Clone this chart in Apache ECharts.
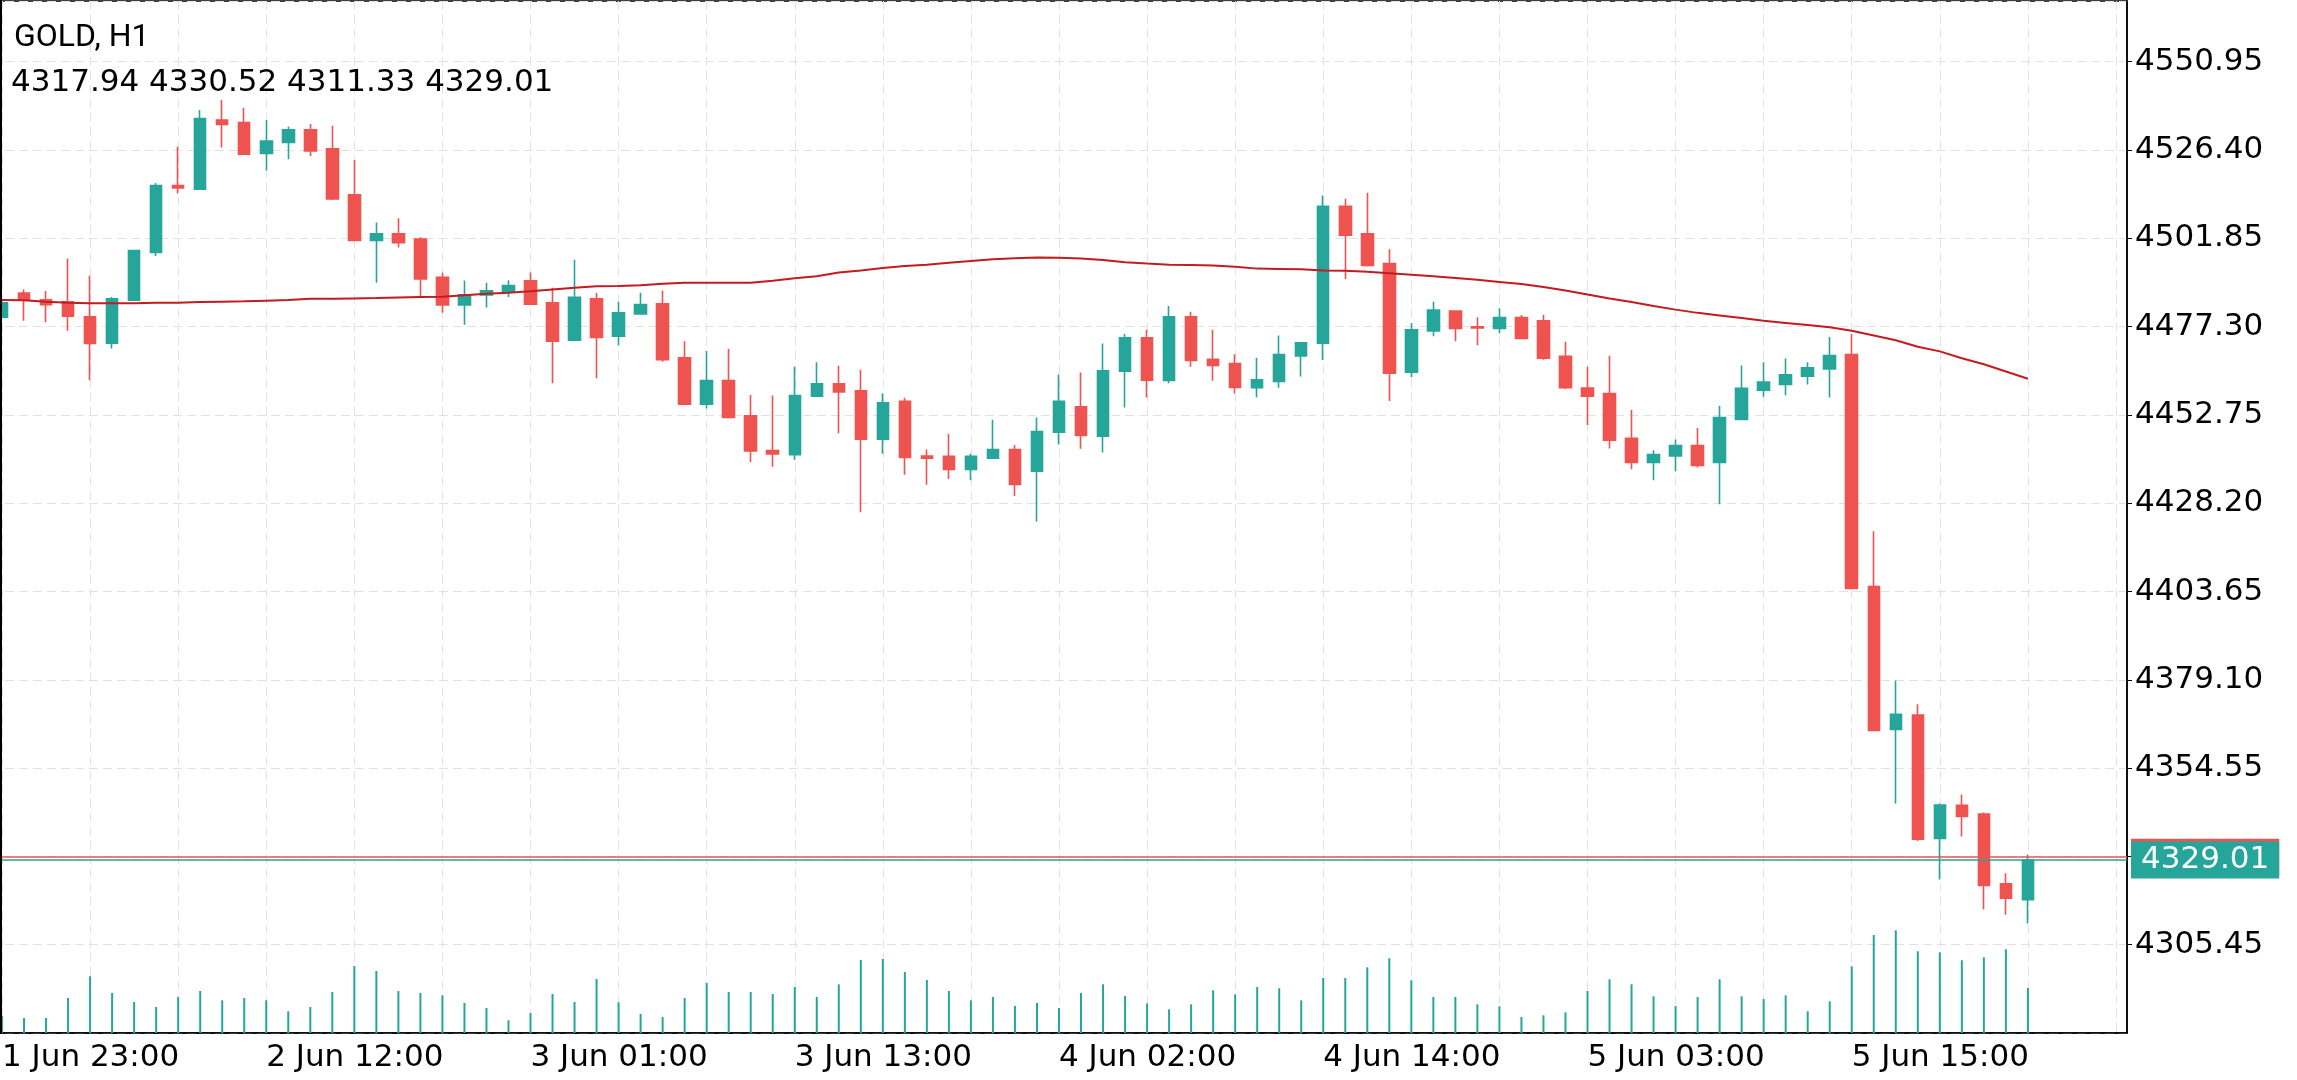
<!DOCTYPE html>
<html>
<head>
<meta charset="utf-8">
<title>GOLD, H1</title>
<script src="https://cdn.jsdelivr.net/npm/echarts@6.0.0/dist/echarts.min.js"></script>
<style>
  html, body { margin: 0; padding: 0; background: #fff; }
  #main { width: 2297px; height: 1080px; }
</style>
</head>
<body>
<div id="main"></div>
<script>
// hourly bars (index 0 = 1 Jun 23:00)
const opens = [4479.9, 4486.6, 4484.7, 4484.2, 4480.0, 4472.7, 4484.6, 4497.9, 4516.5, 4515.5,
  4534.7, 4534.0, 4525.4, 4528.5, 4532.0, 4526.7, 4513.9, 4501.2, 4503.1, 4501.6,
  4491.0, 4483.3, 4486.1, 4487.0, 4490.0, 4483.9, 4473.5, 4485.0, 4474.6, 4480.8,
  4483.6, 4468.6, 4455.7, 4462.3, 4452.5, 4442.8, 4441.7, 4457.9, 4461.4, 4459.4,
  4446.0, 4456.5, 4441.3, 4441.2, 4437.6, 4440.7, 4443.1, 4437.1, 4447.9, 4455.0,
  4446.8, 4464.9, 4474.2, 4462.3, 4480.0, 4468.2, 4467.0, 4460.3, 4462.0, 4469.1,
  4472.7, 4510.7, 4503.1, 4494.8, 4464.6, 4476.1, 4481.6, 4477.2, 4476.8, 4479.8,
  4478.9, 4469.0, 4460.2, 4458.7, 4446.2, 4439.5, 4441.3, 4444.2, 4439.5, 4451.5,
  4459.6, 4461.2, 4463.5, 4465.5, 4469.5, 4405.0, 4365.3, 4369.3, 4335.0, 4344.2,
  4341.8, 4322.4, 4317.94];
const closes = [4483.9, 4484.6, 4483.4, 4480.2, 4472.6, 4485.0, 4498.4, 4516.5, 4515.8, 4535.1,
  4533.5, 4525.2, 4528.9, 4532.0, 4526.1, 4512.8, 4501.2, 4503.1, 4500.6, 4490.5,
  4483.3, 4486.1, 4487.2, 4488.7, 4483.5, 4473.2, 4485.4, 4474.3, 4481.1, 4483.4,
  4468.1, 4455.7, 4462.3, 4452.0, 4442.7, 4441.9, 4458.1, 4461.4, 4459.1, 4446.0,
  4456.1, 4440.9, 4440.7, 4437.6, 4441.2, 4443.1, 4433.4, 4448.1, 4456.5, 4447.0,
  4465.0, 4474.2, 4462.4, 4480.0, 4467.9, 4466.5, 4460.4, 4462.5, 4469.5, 4472.8,
  4510.7, 4502.7, 4494.3, 4464.3, 4476.4, 4481.9, 4476.8, 4476.9, 4479.8, 4474.0,
  4468.5, 4460.3, 4457.9, 4445.7, 4439.5, 4441.7, 4444.2, 4438.7, 4452.0, 4460.1,
  4461.9, 4463.9, 4465.8, 4469.2, 4404.5, 4365.0, 4369.5, 4334.8, 4344.3, 4341.1,
  4321.9, 4318.4, 4329.01];
const highs = [4484.9, 4487.6, 4487.2, 4496.2, 4491.4, 4485.5, 4498.6, 4517.2, 4527.3, 4537.5,
  4540.3, 4538.1, 4534.7, 4532.9, 4533.6, 4533.1, 4523.6, 4506.2, 4507.4, 4502.1,
  4492.3, 4490.1, 4489.5, 4490.2, 4492.3, 4488.1, 4495.9, 4486.6, 4484.2, 4486.7,
  4487.3, 4473.2, 4470.5, 4471.1, 4458.3, 4458.1, 4466.1, 4467.4, 4466.4, 4465.3,
  4458.7, 4457.5, 4443.1, 4447.5, 4441.9, 4451.4, 4444.4, 4452.0, 4464.0, 4464.5,
  4472.6, 4475.2, 4476.4, 4483.0, 4481.4, 4476.4, 4469.6, 4468.6, 4474.8, 4473.0,
  4513.7, 4512.8, 4514.5, 4498.8, 4478.3, 4484.2, 4481.8, 4479.9, 4482.4, 4480.5,
  4480.6, 4473.1, 4466.1, 4469.2, 4454.1, 4442.9, 4445.9, 4449.1, 4455.3, 4466.5,
  4467.4, 4468.4, 4467.4, 4474.4, 4475.2, 4420.4, 4378.9, 4372.3, 4344.7, 4347.2,
  4342.2, 4325.3, 4330.52];
const lows = [4479.3, 4478.9, 4478.5, 4476.1, 4462.4, 4471.2, 4484.4, 4496.9, 4514.3, 4515.3,
  4527.1, 4525.0, 4520.7, 4523.8, 4524.7, 4512.5, 4501.0, 4489.5, 4499.3, 4485.7,
  4481.1, 4477.8, 4482.6, 4485.5, 4483.3, 4461.5, 4473.3, 4462.9, 4472.0, 4480.6,
  4467.5, 4455.5, 4454.5, 4451.8, 4439.6, 4438.3, 4440.2, 4457.7, 4447.6, 4425.7,
  4441.9, 4436.1, 4433.3, 4434.9, 4434.6, 4440.5, 4430.2, 4423.1, 4444.5, 4443.3,
  4442.3, 4454.8, 4457.6, 4461.5, 4466.1, 4462.2, 4458.7, 4457.6, 4460.3, 4463.4,
  4468.0, 4490.5, 4494.0, 4456.6, 4463.2, 4474.6, 4473.2, 4472.1, 4475.4, 4473.8,
  4468.1, 4459.9, 4449.9, 4443.4, 4437.6, 4434.6, 4437.1, 4438.1, 4427.9, 4451.4,
  4457.8, 4458.2, 4461.2, 4457.6, 4404.3, 4364.8, 4344.7, 4334.3, 4323.6, 4335.5,
  4315.2, 4313.8, 4311.33];
// moving average line
const maLine = [4484.7, 4484.6, 4484.2, 4483.9, 4483.8, 4483.8, 4483.8, 4483.9, 4483.9, 4484.1,
  4484.2, 4484.3, 4484.5, 4484.7, 4485.0, 4485.0, 4485.1, 4485.2, 4485.4, 4485.5,
  4485.6, 4486.0, 4486.4, 4486.7, 4487.1, 4487.6, 4488.1, 4488.5, 4488.6, 4488.8,
  4489.2, 4489.5, 4489.5, 4489.5, 4489.5, 4490.0, 4490.7, 4491.3, 4492.3, 4492.9,
  4493.6, 4494.1, 4494.5, 4495.0, 4495.5, 4496.0, 4496.3, 4496.5, 4496.4, 4496.2,
  4495.8, 4495.2, 4494.8, 4494.5, 4494.4, 4494.3, 4493.9, 4493.4, 4493.3, 4493.2,
  4492.9, 4492.8, 4492.5, 4492.1, 4491.7, 4491.3, 4490.8, 4490.3, 4489.7, 4489.1,
  4488.3, 4487.3, 4486.2, 4485.1, 4484.1, 4483.0, 4482.0, 4481.1, 4480.4, 4479.7,
  4478.9, 4478.3, 4477.7, 4477.1, 4476.1, 4474.8, 4473.5, 4471.7, 4470.4, 4468.5,
  4466.8, 4464.8, 4462.8];
// tick volumes (relative)
const volumes = [167, 150, 150, 350, 567, 400, 310, 260, 360, 420,
  327, 350, 327, 217, 260, 410, 670, 620, 420, 400,
  377, 300, 250, 127, 200, 390, 310, 540, 307, 190,
  160, 350, 500, 410, 410, 390, 460, 360, 487, 730,
  740, 610, 530, 420, 327, 360, 270, 300, 250, 400,
  487, 370, 297, 237, 287, 427, 387, 460, 447, 327,
  550, 550, 657, 747, 527, 360, 360, 287, 267, 160,
  177, 207, 420, 537, 487, 367, 270, 360, 537, 367,
  340, 377, 217, 317, 667, 980, 1027, 817, 807, 727,
  757, 837, 450];
const askPrice = 4329.76;
const yTickMin = 4280.90;
const yTickStep = 24.55;

// hourly time labels, the 00:00 bar is missing every day (daily break)
const categories = [];
let day = 1, hour = 23;
for (let i = 0; i < closes.length; i++) {
  categories.push(day + ' Jun ' + String(hour).padStart(2, '0') + ':00');
  hour++;
  if (hour === 24) { day++; hour = 1; }
}
// empty slots on the right of the last bar
for (let i = 0; i < 4; i++) categories.push('');

const last = closes.length - 1;
const bid = closes[last];
const header = [opens[last], highs[last], lows[last], closes[last]].map(v => v.toFixed(2)).join(' ');
const candles = opens.map((o, i) => [o, closes[i], lows[i], highs[i]]);

const UP = '#26a69a';
const DOWN = '#ef5350';
const numFont = 'DejaVu Sans';

const myChart = echarts.init(document.getElementById('main'), null, { renderer: 'canvas' });

const option = {
  animation: false,
  backgroundColor: '#fff',
  textStyle: { fontFamily: numFont },
  grid: {
    left: -9, right: 170, top: 1, bottom: 47,
    containLabel: false,
    outerBoundsMode: 'none',
    show: true,
    borderColor: '#000',
    borderWidth: 1.5
  },
  xAxis: {
    type: 'category',
    data: categories,
    boundaryGap: true,
    axisLine: { lineStyle: { color: '#000', width: 1.5 } },
    axisTick: { alignWithLabel: true, interval: 11, length: 4, lineStyle: { color: '#000' } },
    axisLabel: {
      interval: 11, align: 'left', margin: 9,
      color: '#000', fontFamily: numFont, fontSize: 31
    },
    splitLine: {
      show: true, interval: 3, alignWithLabel: true,
      lineStyle: { color: '#e2e2e2', width: 1, type: [9, 5] }
    }
  },
  yAxis: [
    {
      type: 'value',
      position: 'right',
      min: yTickMin,
      max: 4567.8,
      interval: yTickStep,
      axisLine: { show: true, lineStyle: { color: '#000', width: 1.5 } },
      axisTick: { show: true, length: 5, lineStyle: { color: '#000' } },
      axisLabel: {
        showMinLabel: false, showMaxLabel: false, margin: 8,
        color: '#000', fontFamily: numFont, fontSize: 31,
        formatter: v => v.toFixed(2)
      },
      splitLine: { lineStyle: { color: '#e2e2e2', width: 1, type: [9, 5] } }
    },
    {
      type: 'value',
      show: false,
      min: 0,
      max: 10320
    }
  ],
  graphic: [
    {
      type: 'line', z: 100,
      shape: { x1: 1, y1: 0, x2: 1, y2: 1033 },
      style: { stroke: '#000', lineWidth: 2 }
    },
    {
      type: 'text', left: 14, top: 22, z: 100,
      style: { text: 'GOLD, H1', font: '32px Roboto', fill: '#000' }
    },
    {
      type: 'text', left: 11, top: 67, z: 100,
      style: { text: header, font: '31px "DejaVu Sans"', fill: '#000' }
    }
  ],
  series: [
    {
      name: 'Volume',
      type: 'bar',
      xAxisIndex: 0,
      yAxisIndex: 1,
      barWidth: 2,
      data: volumes,
      itemStyle: { color: UP },
      silent: true,
      z: 1
    },
    {
      name: 'GOLD',
      type: 'candlestick',
      yAxisIndex: 0,
      barWidth: 12,
      data: candles,
      itemStyle: {
        color: UP, color0: DOWN,
        borderColor: UP, borderColor0: DOWN,
        borderWidth: 1.6
      },
      markLine: {
        silent: true,
        symbol: ['none', 'none'],
        data: [
          {
            yAxis: askPrice,
            lineStyle: { color: DOWN, width: 1.5, type: 'solid' },
            label: {
              position: 'end', distance: 4,
              formatter: () => askPrice.toFixed(2),
              color: DOWN, backgroundColor: DOWN,
              fontFamily: numFont, fontSize: 31, lineHeight: 31,
              padding: [3, 10, 3, 10]
            }
          },
          {
            yAxis: bid,
            lineStyle: { color: UP, width: 1.5, type: 'solid' },
            label: {
              position: 'end', distance: 4,
              formatter: () => bid.toFixed(2),
              color: '#fff', backgroundColor: UP,
              fontFamily: numFont, fontSize: 31, lineHeight: 31,
              padding: [3, 10, 3, 10]
            }
          }
        ]
      }
    },
    {
      name: 'MA',
      type: 'line',
      yAxisIndex: 0,
      data: maLine,
      showSymbol: false,
      smooth: false,
      silent: true,
      lineStyle: { color: '#c41a20', width: 2 },
      z: 3
    }
  ]
};

option && myChart.setOption(option);
</script>
</body>
</html>
